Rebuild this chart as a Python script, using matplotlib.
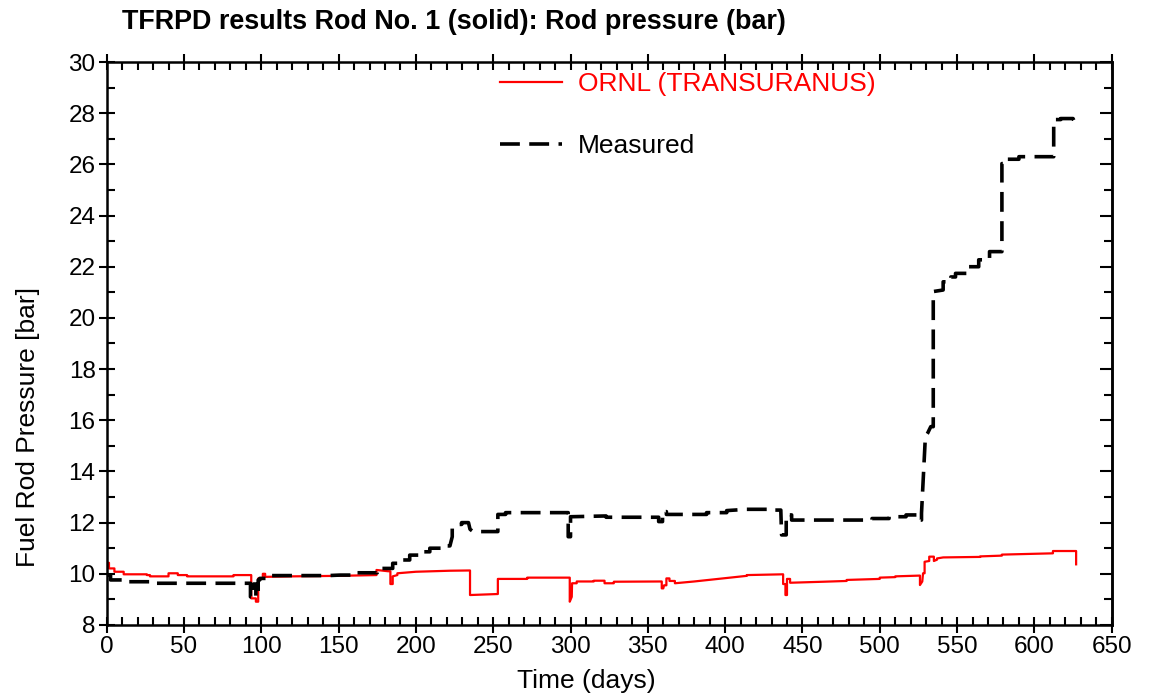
import matplotlib
matplotlib.use("Agg")
import matplotlib.pyplot as plt
from matplotlib.ticker import MultipleLocator

plt.rcParams['font.family'] = ['Liberation Sans', 'DejaVu Sans']

# ORNL (TRANSURANUS) calculated rod pressure
ornl_days = [0, 1.5, 1.5, 5, 5, 11, 11, 26,
             26, 28, 28, 40, 40, 46, 46, 52,
             52, 82, 82, 93.5, 93.5, 96.5, 96.5, 98,
             98, 101, 101, 102.5, 102.5, 120, 150, 174.5,
             174.5, 182, 183.5, 183.5, 185, 185, 188, 188,
             200, 222, 235, 235, 253, 253, 272, 272,
             299.5, 299.5, 300.8, 301, 304, 304, 315, 315,
             322, 322, 328, 328, 359, 359, 360, 360.5,
             362, 362, 364, 364, 367.5, 367.5, 380, 414,
             414, 437.5, 437.5, 439, 439, 440, 440, 442,
             442, 463.5, 478.6, 478.6, 500, 500, 510, 510,
             526, 526, 527.5, 528, 529, 529, 532, 532,
             535, 535, 537, 537, 541, 565, 565, 579,
             579, 612, 612, 627, 627]
ornl_bar = [10.43, 10.43, 10.21, 10.21, 10.08, 10.08, 9.98, 9.98,
            9.95, 9.95, 9.90, 9.90, 10.02, 10.02, 9.95, 9.95,
            9.90, 9.90, 9.95, 9.95, 9.04, 9.04, 8.91, 8.91,
            9.82, 9.82, 10.00, 10.00, 9.88, 9.90, 9.92, 9.95,
            10.15, 10.10, 10.10, 9.60, 9.60, 9.90, 9.95, 10.02,
            10.08, 10.12, 10.13, 9.17, 9.21, 9.80, 9.80, 9.85,
            9.85, 8.91, 9.10, 9.63, 9.63, 9.70, 9.70, 9.73,
            9.73, 9.63, 9.63, 9.69, 9.70, 9.43, 9.43, 9.55,
            9.55, 9.82, 9.82, 9.72, 9.72, 9.63, 9.70, 9.92,
            9.95, 9.98, 9.60, 9.60, 9.17, 9.17, 9.80, 9.80,
            9.65, 9.69, 9.72, 9.76, 9.80, 9.85, 9.87, 9.90,
            9.93, 9.56, 9.70, 10.02, 10.02, 10.47, 10.50, 10.67,
            10.67, 10.50, 10.55, 10.60, 10.64, 10.66, 10.68, 10.71,
            10.75, 10.80, 10.89, 10.89, 10.37]

# Measured rod pressure
meas_days = [0, 2.5, 2.5, 10, 10, 28, 28, 93,
             93, 95, 95, 96.5, 96.5, 98, 98, 99,
             99, 104, 104, 143, 151, 158, 158, 175,
             175, 177, 177, 185, 185, 189, 189, 196,
             196, 202, 202, 209, 209, 216, 216, 222,
             223.5, 223.5, 226, 229.6, 229.6, 234, 235, 237,
             253, 253, 258, 258, 298.5, 298.5, 300, 300,
             323, 323, 357, 357, 359.5, 359.5, 362, 362,
             388, 388, 401, 401, 414, 431, 431, 436,
             436.5, 439.5, 439.5, 443, 443, 495, 495, 506,
             506, 517, 517, 526, 526, 527, 527, 529.5,
             531, 533, 534.6, 534.6, 541, 541, 546, 546,
             549, 549, 556, 556, 564, 564, 571, 571,
             579, 579, 581, 581, 590, 590, 612.5, 612.5,
             617, 617, 625, 628]
meas_bar = [9.95, 9.95, 9.76, 9.76, 9.69, 9.69, 9.63, 9.63,
            9.10, 9.10, 9.60, 9.60, 9.10, 9.10, 9.76, 9.76,
            9.82, 9.82, 9.93, 9.93, 9.95, 9.95, 10.04, 10.04,
            10.15, 10.15, 10.21, 10.21, 10.41, 10.41, 10.54, 10.54,
            10.73, 10.73, 10.86, 10.86, 11.00, 11.00, 11.09, 11.09,
            11.45, 11.78, 11.93, 11.93, 12.00, 12.00, 11.74, 11.65,
            11.65, 12.32, 12.32, 12.39, 12.39, 11.45, 11.45, 12.23,
            12.26, 12.21, 12.21, 12.04, 12.04, 12.43, 12.43, 12.32,
            12.32, 12.39, 12.39, 12.47, 12.52, 12.52, 12.49, 12.49,
            11.52, 11.52, 12.30, 12.30, 12.10, 12.10, 12.16, 12.16,
            12.23, 12.23, 12.30, 12.30, 12.10, 12.10, 12.37, 15.36,
            15.50, 15.75, 15.75, 21.03, 21.09, 21.41, 21.41, 21.60,
            21.60, 21.74, 21.74, 22.00, 22.00, 22.27, 22.27, 22.59,
            22.59, 26.03, 26.03, 26.20, 26.20, 26.30, 26.30, 27.75,
            27.75, 27.79, 27.79, 27.40]

title = "TFRPD results Rod No. 1 (solid): Rod pressure (bar)"
xlabel = "Time (days)"
ylabel = "Fuel Rod Pressure [bar]"
label_ornl = "ORNL (TRANSURANUS)"
label_meas = "Measured"

fig = plt.figure(figsize=(11.62, 6.99), dpi=100)
ax = fig.add_axes([0.0918, 0.1059, 0.8649, 0.8054])

ax.plot(ornl_days, ornl_bar, color='red', lw=1.6, label=label_ornl)
ax.plot(meas_days, meas_bar, color='black', lw=2.6, dashes=(5.5, 2.6), label=label_meas)

ax.set_xlim(0, 650)
ax.set_ylim(8, 30)
ax.xaxis.set_major_locator(MultipleLocator(50))
ax.xaxis.set_minor_locator(MultipleLocator(10))
ax.yaxis.set_major_locator(MultipleLocator(2))
ax.yaxis.set_minor_locator(MultipleLocator(1))

fs = 17.5
lfs = 19
ax.tick_params(which='major', direction='inout', length=12, width=1.5, labelsize=fs,
               top=True, right=False, pad=2)
ax.tick_params(which='minor', direction='in', length=6, width=1.5, top=True, right=False)
for s in ax.spines.values():
    s.set_linewidth(1.8)

sec = ax.secondary_yaxis('right')
sec.yaxis.set_major_locator(MultipleLocator(2))
sec.yaxis.set_minor_locator(MultipleLocator(1))
sec.tick_params(which='major', direction='in', length=9, width=1.5, labelright=False)
sec.tick_params(which='minor', direction='in', length=6, width=1.5)
sec.spines['right'].set_linewidth(1.8)

ax.set_xlabel(xlabel, fontsize=lfs)
ax.xaxis.label.set_verticalalignment('center')
ax.xaxis.set_label_coords(0.477, -0.0995)
ax.set_ylabel(ylabel, fontsize=lfs)
ax.yaxis.label.set_verticalalignment('center')
ax.yaxis.set_label_coords(-0.078, 0.352)

leg = ax.legend(loc='center left', bbox_to_anchor=(0.3808, 0.905), frameon=False, fontsize=lfs,
                handlelength=2.35, handletextpad=0.6, labelspacing=1.44, borderaxespad=0,
                labelcolor='linecolor')

fig.text(122 / 1162, 1 - 22 / 699, title, fontsize=19.4, fontweight='bold', ha='left', va='center')

fig.savefig("out.png", dpi=100)
